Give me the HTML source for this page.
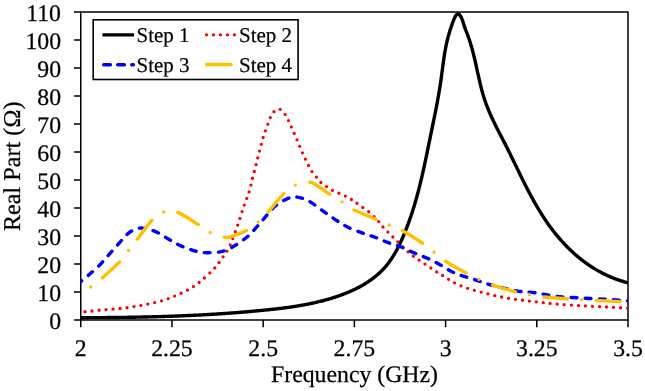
<!DOCTYPE html>
<html><head><meta charset="utf-8"><style>
html,body{margin:0;padding:0;background:#fff;}
svg{display:block;will-change:transform;text-rendering:geometricPrecision;}
.t{font-family:"Liberation Serif",serif;font-size:23.75px;fill:#000;stroke:#000;stroke-width:0.25px;}
.l{font-family:"Liberation Serif",serif;font-size:21px;fill:#000;stroke:#000;stroke-width:0.2px;}
</style></head><body>
<svg width="645" height="391" viewBox="0 0 645 391">
<rect x="80.75" y="12" width="547.25" height="308" fill="none" stroke="#000" stroke-width="1.5"/>
<line x1="74" y1="320.0" x2="80.75" y2="320.0" stroke="#000" stroke-width="1.5"/>
<text x="61" y="328.5" text-anchor="end" class="t">0</text>
<line x1="74" y1="292.0" x2="80.75" y2="292.0" stroke="#000" stroke-width="1.5"/>
<text x="61" y="300.5" text-anchor="end" class="t">10</text>
<line x1="74" y1="264.0" x2="80.75" y2="264.0" stroke="#000" stroke-width="1.5"/>
<text x="61" y="272.5" text-anchor="end" class="t">20</text>
<line x1="74" y1="236.0" x2="80.75" y2="236.0" stroke="#000" stroke-width="1.5"/>
<text x="61" y="244.5" text-anchor="end" class="t">30</text>
<line x1="74" y1="208.0" x2="80.75" y2="208.0" stroke="#000" stroke-width="1.5"/>
<text x="61" y="216.5" text-anchor="end" class="t">40</text>
<line x1="74" y1="180.0" x2="80.75" y2="180.0" stroke="#000" stroke-width="1.5"/>
<text x="61" y="188.5" text-anchor="end" class="t">50</text>
<line x1="74" y1="152.0" x2="80.75" y2="152.0" stroke="#000" stroke-width="1.5"/>
<text x="61" y="160.5" text-anchor="end" class="t">60</text>
<line x1="74" y1="124.0" x2="80.75" y2="124.0" stroke="#000" stroke-width="1.5"/>
<text x="61" y="132.5" text-anchor="end" class="t">70</text>
<line x1="74" y1="96.0" x2="80.75" y2="96.0" stroke="#000" stroke-width="1.5"/>
<text x="61" y="104.5" text-anchor="end" class="t">80</text>
<line x1="74" y1="68.0" x2="80.75" y2="68.0" stroke="#000" stroke-width="1.5"/>
<text x="61" y="76.5" text-anchor="end" class="t">90</text>
<line x1="74" y1="40.0" x2="80.75" y2="40.0" stroke="#000" stroke-width="1.5"/>
<text x="61" y="48.5" text-anchor="end" class="t">100</text>
<line x1="74" y1="12.0" x2="80.75" y2="12.0" stroke="#000" stroke-width="1.5"/>
<text x="61" y="20.5" text-anchor="end" class="t">110</text>
<line x1="80.75" y1="320" x2="80.75" y2="327.3" stroke="#000" stroke-width="1.5"/>
<text x="80.75" y="356" text-anchor="middle" class="t">2</text>
<line x1="171.96" y1="320" x2="171.96" y2="327.3" stroke="#000" stroke-width="1.5"/>
<text x="171.96" y="356" text-anchor="middle" class="t">2.25</text>
<line x1="263.17" y1="320" x2="263.17" y2="327.3" stroke="#000" stroke-width="1.5"/>
<text x="263.17" y="356" text-anchor="middle" class="t">2.5</text>
<line x1="354.38" y1="320" x2="354.38" y2="327.3" stroke="#000" stroke-width="1.5"/>
<text x="354.38" y="356" text-anchor="middle" class="t">2.75</text>
<line x1="445.58" y1="320" x2="445.58" y2="327.3" stroke="#000" stroke-width="1.5"/>
<text x="445.58" y="356" text-anchor="middle" class="t">3</text>
<line x1="536.79" y1="320" x2="536.79" y2="327.3" stroke="#000" stroke-width="1.5"/>
<text x="536.79" y="356" text-anchor="middle" class="t">3.25</text>
<line x1="628.00" y1="320" x2="628.00" y2="327.3" stroke="#000" stroke-width="1.5"/>
<text x="628.00" y="356" text-anchor="middle" class="t">3.5</text>
<defs><clipPath id="pc"><rect x="80.75" y="10" width="547.25" height="310"/></clipPath></defs><g clip-path="url(#pc)">
<path d="M80.52,317.69 L81.52,317.69 L82.52,317.69 L83.52,317.68 L84.52,317.68 L85.51,317.68 L86.51,317.68 L87.51,317.67 L88.51,317.67 L89.51,317.67 L90.51,317.67 L91.51,317.66 L92.51,317.66 L93.51,317.65 L94.51,317.65 L95.51,317.64 L96.50,317.64 L97.50,317.63 L98.50,317.63 L99.50,317.62 L100.50,317.62 L101.50,317.61 L102.50,317.60 L103.50,317.59 L104.50,317.59 L105.51,317.58 L106.51,317.57 L107.51,317.56 L108.51,317.55 L109.51,317.55 L110.51,317.54 L111.51,317.53 L112.51,317.52 L113.51,317.51 L114.51,317.50 L115.51,317.48 L116.51,317.47 L117.51,317.46 L118.52,317.45 L119.52,317.44 L120.52,317.42 L121.52,317.41 L122.52,317.40 L123.52,317.38 L124.52,317.37 L125.53,317.35 L126.53,317.34 L127.53,317.32 L128.53,317.31 L129.53,317.29 L130.53,317.28 L131.54,317.26 L132.54,317.24 L133.54,317.22 L134.54,317.21 L135.54,317.19 L136.55,317.17 L137.55,317.15 L138.55,317.13 L139.55,317.11 L140.56,317.09 L141.56,317.07 L142.56,317.05 L143.56,317.02 L144.56,317.00 L145.57,316.98 L146.57,316.95 L147.57,316.93 L148.57,316.91 L149.58,316.88 L150.58,316.86 L151.58,316.83 L152.58,316.81 L153.59,316.78 L154.59,316.75 L155.59,316.72 L156.59,316.70 L157.60,316.67 L158.60,316.64 L159.60,316.61 L160.60,316.58 L161.61,316.55 L162.61,316.52 L163.61,316.49 L164.61,316.46 L165.61,316.42 L166.62,316.39 L167.62,316.36 L168.62,316.32 L169.62,316.29 L170.63,316.25 L171.63,316.22 L172.63,316.18 L173.63,316.15 L174.64,316.11 L175.64,316.07 L176.64,316.03 L177.64,315.99 L178.65,315.95 L179.65,315.91 L180.65,315.87 L181.65,315.83 L182.65,315.79 L183.66,315.75 L184.66,315.71 L185.66,315.66 L186.66,315.62 L187.66,315.57 L188.67,315.53 L189.67,315.48 L190.67,315.44 L191.67,315.39 L192.67,315.34 L193.67,315.30 L194.68,315.25 L195.68,315.20 L196.68,315.15 L197.68,315.10 L198.68,315.05 L199.68,314.99 L200.69,314.94 L201.69,314.89 L202.69,314.83 L203.69,314.78 L204.69,314.73 L205.69,314.67 L206.69,314.61 L207.69,314.56 L208.69,314.50 L209.69,314.44 L210.70,314.38 L211.70,314.32 L212.70,314.26 L213.70,314.20 L214.70,314.14 L215.70,314.08 L216.70,314.02 L217.70,313.95 L218.70,313.89 L219.70,313.82 L220.70,313.76 L221.70,313.69 L222.70,313.62 L223.70,313.56 L224.70,313.49 L225.70,313.42 L226.70,313.35 L227.69,313.28 L228.69,313.21 L229.69,313.13 L230.69,313.06 L231.69,312.99 L232.69,312.91 L233.69,312.84 L234.69,312.76 L235.69,312.69 L236.68,312.61 L237.68,312.53 L238.68,312.45 L239.68,312.37 L240.68,312.29 L241.67,312.21 L242.67,312.13 L243.67,312.05 L244.67,311.96 L245.66,311.88 L246.66,311.79 L247.66,311.71 L248.66,311.62 L249.65,311.54 L250.65,311.45 L251.65,311.36 L252.64,311.27 L253.64,311.18 L254.63,311.09 L255.63,310.99 L256.63,310.90 L257.62,310.81 L258.62,310.71 L259.61,310.62 L260.61,310.52 L261.60,310.42 L262.60,310.33 L263.59,310.23 L264.59,310.13 L265.58,310.03 L266.58,309.93 L267.57,309.82 L268.57,309.72 L269.56,309.62 L270.55,309.51 L271.55,309.40 L272.54,309.30 L273.54,309.19 L274.53,309.08 L275.52,308.96 L276.51,308.85 L277.51,308.74 L278.50,308.62 L279.49,308.50 L280.48,308.38 L281.47,308.26 L282.46,308.14 L283.45,308.01 L284.44,307.88 L285.43,307.75 L286.42,307.62 L287.41,307.49 L288.40,307.35 L289.39,307.21 L290.38,307.07 L291.37,306.93 L292.36,306.78 L293.34,306.63 L294.33,306.48 L295.32,306.33 L296.30,306.17 L297.29,306.02 L298.27,305.85 L299.26,305.69 L300.24,305.52 L301.23,305.35 L302.21,305.18 L303.19,305.00 L304.18,304.82 L305.16,304.64 L306.14,304.45 L307.12,304.27 L308.10,304.07 L309.08,303.88 L310.06,303.68 L311.04,303.47 L312.02,303.27 L313.00,303.06 L313.98,302.84 L314.95,302.62 L315.93,302.40 L316.91,302.17 L317.88,301.94 L318.86,301.71 L319.83,301.47 L320.80,301.23 L321.78,300.98 L322.75,300.73 L323.72,300.48 L324.69,300.22 L325.66,299.95 L326.63,299.68 L327.60,299.41 L328.57,299.13 L329.54,298.85 L330.51,298.56 L331.47,298.27 L332.44,297.97 L333.40,297.67 L334.37,297.36 L335.33,297.05 L336.29,296.73 L337.25,296.41 L338.21,296.08 L339.17,295.75 L340.12,295.41 L341.07,295.06 L342.02,294.71 L342.97,294.36 L343.92,294.00 L344.86,293.63 L345.80,293.26 L346.74,292.88 L347.68,292.49 L348.61,292.10 L349.54,291.70 L350.46,291.30 L351.39,290.89 L352.30,290.47 L353.22,290.05 L354.13,289.62 L355.04,289.19 L355.94,288.74 L356.84,288.30 L357.73,287.84 L358.62,287.38 L359.51,286.91 L360.39,286.43 L361.26,285.95 L362.13,285.46 L362.99,284.96 L363.85,284.45 L364.71,283.94 L365.55,283.42 L366.40,282.89 L367.23,282.36 L368.06,281.81 L368.89,281.26 L369.70,280.71 L370.51,280.14 L371.32,279.57 L372.12,278.98 L372.91,278.39 L373.69,277.80 L374.47,277.19 L375.24,276.57 L376.00,275.95 L376.75,275.32 L377.50,274.68 L378.24,274.03 L378.97,273.38 L379.69,272.71 L380.40,272.04 L381.11,271.35 L381.80,270.66 L382.49,269.96 L383.17,269.25 L383.84,268.53 L384.50,267.81 L385.16,267.07 L385.80,266.32 L386.43,265.57 L387.06,264.80 L387.67,264.03 L388.28,263.24 L388.87,262.45 L389.46,261.65 L390.04,260.85 L390.61,260.03 L391.17,259.21 L391.73,258.38 L392.27,257.54 L392.81,256.70 L393.34,255.85 L393.87,254.99 L394.38,254.13 L394.89,253.26 L395.39,252.39 L395.89,251.51 L396.37,250.63 L396.85,249.74 L397.33,248.84 L397.80,247.95 L398.26,247.04 L398.72,246.14 L399.17,245.23 L399.61,244.32 L400.05,243.40 L400.48,242.48 L400.91,241.56 L401.33,240.63 L401.75,239.71 L402.16,238.78 L402.57,237.85 L402.98,236.92 L403.38,235.98 L403.77,235.05 L404.16,234.11 L404.55,233.18 L404.93,232.24 L405.31,231.30 L405.69,230.37 L406.06,229.43 L406.43,228.49 L406.79,227.55 L407.16,226.60 L407.51,225.66 L407.87,224.72 L408.22,223.78 L408.56,222.83 L408.90,221.89 L409.24,220.94 L409.58,220.00 L409.91,219.05 L410.24,218.10 L410.57,217.15 L410.89,216.20 L411.21,215.25 L411.53,214.30 L411.84,213.35 L412.15,212.40 L412.46,211.45 L412.76,210.49 L413.06,209.54 L413.36,208.59 L413.65,207.63 L413.95,206.68 L414.24,205.72 L414.52,204.76 L414.81,203.81 L415.09,202.85 L415.37,201.89 L415.65,200.93 L415.92,199.97 L416.19,199.01 L416.46,198.05 L416.73,197.09 L416.99,196.13 L417.25,195.16 L417.51,194.20 L417.77,193.24 L418.03,192.27 L418.28,191.31 L418.53,190.34 L418.78,189.38 L419.03,188.41 L419.27,187.45 L419.51,186.48 L419.76,185.51 L420.00,184.54 L420.23,183.58 L420.47,182.61 L420.70,181.64 L420.94,180.67 L421.17,179.70 L421.40,178.73 L421.62,177.76 L421.85,176.78 L422.07,175.81 L422.30,174.84 L422.52,173.87 L422.74,172.89 L422.96,171.92 L423.18,170.95 L423.39,169.97 L423.61,169.00 L423.82,168.02 L424.04,167.05 L424.25,166.07 L424.46,165.10 L424.67,164.12 L424.88,163.15 L425.09,162.17 L425.30,161.19 L425.51,160.21 L425.71,159.24 L425.92,158.26 L426.12,157.28 L426.33,156.30 L426.53,155.32 L426.73,154.34 L426.94,153.36 L427.14,152.39 L427.34,151.41 L427.54,150.43 L427.75,149.45 L427.95,148.47 L428.15,147.48 L428.35,146.50 L428.55,145.52 L428.75,144.54 L428.95,143.56 L429.15,142.58 L429.35,141.60 L429.55,140.61 L429.75,139.63 L429.95,138.65 L430.15,137.67 L430.35,136.69 L430.55,135.70 L430.76,134.72 L430.96,133.74 L431.16,132.75 L431.36,131.77 L431.57,130.79 L431.77,129.80 L431.97,128.82 L432.17,127.84 L432.38,126.85 L432.58,125.87 L432.78,124.88 L432.98,123.90 L433.19,122.92 L433.39,121.93 L433.59,120.95 L433.79,119.96 L433.99,118.98 L434.19,117.99 L434.39,117.01 L434.59,116.02 L434.79,115.04 L434.98,114.05 L435.18,113.07 L435.38,112.08 L435.57,111.10 L435.77,110.11 L435.96,109.12 L436.15,108.14 L436.34,107.15 L436.53,106.17 L436.72,105.18 L436.91,104.19 L437.09,103.21 L437.28,102.22 L437.46,101.23 L437.64,100.25 L437.83,99.26 L438.00,98.27 L438.18,97.28 L438.36,96.30 L438.53,95.31 L438.70,94.32 L438.87,93.33 L439.04,92.35 L439.21,91.36 L439.38,90.37 L439.54,89.38 L439.70,88.40 L439.86,87.41 L440.01,86.42 L440.17,85.43 L440.32,84.44 L440.47,83.45 L440.62,82.46 L440.76,81.48 L440.91,80.49 L441.05,79.50 L441.19,78.51 L441.32,77.52 L441.46,76.53 L441.59,75.54 L441.72,74.55 L441.85,73.56 L441.98,72.57 L442.11,71.59 L442.24,70.60 L442.37,69.61 L442.49,68.62 L442.62,67.63 L442.75,66.64 L442.88,65.65 L443.01,64.66 L443.15,63.68 L443.28,62.69 L443.42,61.70 L443.55,60.71 L443.69,59.72 L443.84,58.74 L443.98,57.75 L444.13,56.76 L444.28,55.78 L444.44,54.79 L444.59,53.81 L444.76,52.82 L444.92,51.83 L445.09,50.85 L445.27,49.87 L445.45,48.88 L445.63,47.90 L445.82,46.91 L446.02,45.93 L446.22,44.95 L446.43,43.97 L446.64,42.99 L446.86,42.01 L447.09,41.03 L447.32,40.05 L447.56,39.07 L447.81,38.09 L448.07,37.11 L448.33,36.13 L448.60,35.16 L448.87,34.19 L449.16,33.21 L449.44,32.25 L449.74,31.28 L450.04,30.32 L450.35,29.36 L450.66,28.40 L450.97,27.45 L451.30,26.50 L451.62,25.56 L451.95,24.62 L452.29,23.69 L452.63,22.76 L452.97,21.84 L453.32,20.92 L453.67,20.02 L454.04,19.11 L454.45,18.18 L454.93,17.21 L455.50,16.19 L456.16,15.23 L456.87,14.45 L457.60,13.96 L458.34,13.88 L459.05,14.24 L459.74,14.94 L460.37,15.85 L460.95,16.86 L461.46,17.88 L461.91,18.86 L462.30,19.82 L462.65,20.75 L462.96,21.67 L463.25,22.58 L463.52,23.48 L463.79,24.39 L464.07,25.30 L464.36,26.23 L464.68,27.17 L465.02,28.13 L465.38,29.09 L465.75,30.07 L466.12,31.04 L466.50,32.02 L466.87,32.99 L467.24,33.95 L467.59,34.91 L467.94,35.86 L468.28,36.81 L468.62,37.75 L468.94,38.69 L469.26,39.62 L469.58,40.56 L469.88,41.49 L470.19,42.43 L470.48,43.37 L470.77,44.31 L471.05,45.25 L471.33,46.19 L471.61,47.14 L471.88,48.09 L472.14,49.04 L472.40,50.00 L472.66,50.96 L472.91,51.92 L473.16,52.89 L473.40,53.85 L473.64,54.82 L473.88,55.79 L474.12,56.77 L474.35,57.74 L474.58,58.72 L474.81,59.70 L475.03,60.68 L475.26,61.66 L475.48,62.64 L475.70,63.63 L475.92,64.61 L476.14,65.60 L476.35,66.59 L476.57,67.57 L476.79,68.56 L477.00,69.55 L477.22,70.54 L477.43,71.53 L477.65,72.52 L477.87,73.51 L478.09,74.50 L478.31,75.49 L478.53,76.48 L478.75,77.47 L478.97,78.46 L479.20,79.45 L479.42,80.44 L479.65,81.43 L479.88,82.41 L480.12,83.40 L480.35,84.38 L480.59,85.37 L480.84,86.35 L481.09,87.33 L481.34,88.31 L481.59,89.28 L481.85,90.26 L482.11,91.23 L482.38,92.20 L482.65,93.17 L482.93,94.14 L483.21,95.11 L483.50,96.07 L483.79,97.03 L484.09,97.98 L484.40,98.94 L484.71,99.89 L485.02,100.84 L485.35,101.78 L485.68,102.72 L486.02,103.66 L486.36,104.60 L486.71,105.53 L487.06,106.46 L487.43,107.39 L487.79,108.31 L488.16,109.24 L488.54,110.16 L488.92,111.07 L489.31,111.99 L489.70,112.90 L490.10,113.81 L490.50,114.72 L490.91,115.63 L491.32,116.53 L491.73,117.44 L492.15,118.34 L492.57,119.24 L492.99,120.13 L493.42,121.03 L493.85,121.93 L494.29,122.82 L494.72,123.71 L495.16,124.61 L495.61,125.50 L496.05,126.39 L496.50,127.28 L496.94,128.17 L497.39,129.05 L497.85,129.94 L498.30,130.83 L498.75,131.71 L499.21,132.60 L499.67,133.49 L500.12,134.37 L500.58,135.26 L501.04,136.14 L501.50,137.03 L501.96,137.91 L502.42,138.80 L502.88,139.69 L503.33,140.57 L503.79,141.46 L504.25,142.35 L504.71,143.24 L505.16,144.13 L505.62,145.02 L506.07,145.91 L506.52,146.80 L506.97,147.70 L507.42,148.59 L507.87,149.49 L508.32,150.38 L508.76,151.28 L509.21,152.18 L509.65,153.08 L510.09,153.98 L510.54,154.88 L510.98,155.78 L511.42,156.68 L511.86,157.58 L512.30,158.48 L512.74,159.38 L513.18,160.28 L513.62,161.18 L514.06,162.09 L514.50,162.99 L514.94,163.89 L515.37,164.80 L515.81,165.70 L516.25,166.60 L516.69,167.51 L517.13,168.41 L517.57,169.31 L518.01,170.22 L518.45,171.12 L518.89,172.02 L519.33,172.92 L519.77,173.83 L520.21,174.73 L520.65,175.63 L521.09,176.53 L521.54,177.43 L521.98,178.33 L522.43,179.23 L522.87,180.13 L523.32,181.03 L523.77,181.93 L524.22,182.82 L524.67,183.72 L525.12,184.62 L525.57,185.51 L526.03,186.41 L526.49,187.30 L526.94,188.19 L527.40,189.08 L527.86,189.97 L528.33,190.86 L528.79,191.75 L529.26,192.64 L529.72,193.52 L530.19,194.41 L530.66,195.29 L531.14,196.17 L531.61,197.05 L532.09,197.93 L532.57,198.81 L533.05,199.68 L533.54,200.56 L534.03,201.43 L534.52,202.30 L535.01,203.17 L535.50,204.04 L536.00,204.91 L536.50,205.77 L537.00,206.63 L537.51,207.50 L538.02,208.35 L538.53,209.21 L539.04,210.07 L539.56,210.92 L540.08,211.77 L540.61,212.62 L541.13,213.47 L541.66,214.31 L542.20,215.15 L542.74,215.99 L543.28,216.83 L543.82,217.67 L544.37,218.50 L544.92,219.33 L545.48,220.16 L546.04,220.99 L546.60,221.81 L547.17,222.63 L547.74,223.45 L548.31,224.26 L548.89,225.08 L549.48,225.89 L550.06,226.69 L550.65,227.50 L551.25,228.30 L551.85,229.10 L552.46,229.89 L553.06,230.68 L553.68,231.47 L554.29,232.26 L554.92,233.04 L555.54,233.82 L556.17,234.60 L556.81,235.37 L557.44,236.14 L558.09,236.91 L558.73,237.67 L559.38,238.43 L560.04,239.18 L560.70,239.93 L561.36,240.68 L562.03,241.42 L562.70,242.16 L563.38,242.89 L564.06,243.63 L564.75,244.35 L565.44,245.07 L566.13,245.79 L566.83,246.51 L567.53,247.22 L568.24,247.92 L568.95,248.62 L569.66,249.32 L570.38,250.01 L571.10,250.70 L571.83,251.38 L572.56,252.06 L573.30,252.73 L574.04,253.40 L574.78,254.06 L575.53,254.72 L576.28,255.37 L577.04,256.02 L577.80,256.66 L578.57,257.30 L579.34,257.93 L580.11,258.56 L580.89,259.18 L581.68,259.80 L582.46,260.41 L583.25,261.01 L584.05,261.61 L584.85,262.20 L585.65,262.79 L586.46,263.37 L587.27,263.95 L588.09,264.52 L588.91,265.08 L589.74,265.64 L590.57,266.19 L591.40,266.74 L592.24,267.28 L593.08,267.81 L593.93,268.34 L594.78,268.86 L595.64,269.37 L596.50,269.88 L597.36,270.38 L598.23,270.87 L599.10,271.36 L599.98,271.84 L600.86,272.32 L601.74,272.78 L602.63,273.24 L603.53,273.70 L604.42,274.14 L605.33,274.58 L606.23,275.01 L607.14,275.44 L608.06,275.86 L608.98,276.27 L609.90,276.67 L610.83,277.06 L611.76,277.45 L612.70,277.83 L613.64,278.21 L614.59,278.57 L615.53,278.93 L616.49,279.28 L617.45,279.62 L618.41,279.95 L619.38,280.28 L620.35,280.60 L621.32,280.91 L622.30,281.21 L623.28,281.50 L624.27,281.79 L625.26,282.06 L626.26,282.33 L627.26,282.59 L628.27,282.84" fill="none" stroke="#000" stroke-width="3.4" stroke-linejoin="round"/>
<path d="M80.5,312.2 C81.3,312.1 80.8,312.1 85.1,311.7 C89.3,311.3 100.2,310.1 106.0,309.6 C111.8,309.1 115.3,309.0 120.0,308.5 C124.7,308.0 129.3,307.4 134.0,306.6 C138.7,305.9 143.2,305.0 147.9,304.0 C152.6,303.0 157.4,302.0 161.9,300.7 C166.4,299.4 170.6,297.8 174.9,296.0 C179.2,294.2 183.9,292.1 187.9,289.8 C191.9,287.6 194.7,285.9 199.0,282.5 C203.3,279.1 209.6,273.4 213.5,269.3 C217.4,265.2 219.6,261.9 222.4,257.8 C225.2,253.8 227.5,250.6 230.1,245.0 C232.7,239.4 235.5,231.1 237.8,224.5 C240.2,217.9 242.3,210.8 244.2,205.3 C246.1,199.8 247.9,195.8 249.3,191.3 C250.7,186.8 251.4,182.6 252.5,178.2 C253.6,173.8 255.0,169.2 256.1,164.7 C257.2,160.2 258.2,156.0 259.4,151.4 C260.6,146.8 261.8,141.9 263.2,137.3 C264.6,132.7 266.6,127.5 267.9,124.0 C269.2,120.5 269.9,118.1 271.0,116.0 C272.1,113.9 273.0,112.3 274.5,111.2 C276.0,110.1 278.1,108.7 279.9,109.2 C281.6,109.7 283.6,112.5 285.0,114.3 C286.4,116.1 287.2,118.1 288.3,120.2 C289.4,122.3 289.9,123.8 291.4,127.1 C292.8,130.4 295.2,135.6 297.0,139.9 C298.8,144.2 300.5,148.4 302.4,152.7 C304.3,156.9 306.9,162.3 308.5,165.4 C310.1,168.5 310.5,169.4 311.8,171.3 C313.1,173.2 314.8,175.1 316.4,177.0 C318.0,178.9 319.6,181.3 321.4,183.0 C323.2,184.7 325.2,185.7 327.0,186.9 C328.8,188.1 330.1,189.1 332.1,190.2 C334.1,191.2 336.5,192.2 338.8,193.2 C341.1,194.2 343.6,195.2 345.7,196.3 C347.8,197.4 349.2,198.1 351.6,199.6 C354.0,201.1 357.1,203.3 360.2,205.6 C363.3,207.9 367.5,210.6 370.5,213.2 C373.5,215.8 376.0,218.6 378.1,220.9 C380.2,223.2 381.1,225.0 383.2,227.3 C385.3,229.7 388.5,232.7 390.9,235.0 C393.2,237.3 394.7,238.8 397.3,241.4 C399.9,244.0 403.5,247.8 406.3,250.3 C409.1,252.9 411.3,254.8 413.9,256.7 C416.4,258.6 419.0,260.1 421.6,261.8 C424.2,263.5 426.7,265.3 429.3,267.0 C431.9,268.7 434.4,270.5 437.0,272.1 C439.6,273.7 441.8,275.0 444.6,276.7 C447.4,278.4 450.0,280.6 453.8,282.5 C457.6,284.4 463.0,286.7 467.6,288.3 C472.2,289.9 476.9,291.0 481.5,292.2 C486.1,293.4 490.7,294.7 495.3,295.7 C499.9,296.7 504.5,297.6 509.1,298.4 C513.7,299.2 518.3,299.7 522.9,300.3 C527.5,300.9 531.3,301.3 536.8,301.9 C542.2,302.5 548.2,303.3 555.6,303.9 C563.0,304.5 572.7,305.2 581.2,305.7 C589.7,306.2 598.9,306.6 606.7,307.0 C614.5,307.4 624.5,308.0 628.0,308.2" fill="none" stroke="#f00" stroke-width="3.3" stroke-linecap="round" stroke-dasharray="0 7.0245" stroke-dashoffset="2.42"/>
<path d="M80.6,281.8 C81.9,280.7 85.2,278.0 88.2,275.4 C91.2,272.8 95.0,269.8 98.4,266.4 C101.8,263.0 105.3,258.7 108.7,254.9 C112.1,251.1 116.0,246.7 118.9,243.4 C121.8,240.1 123.9,237.4 126.1,235.3 C128.3,233.2 130.2,231.8 132.3,230.7 C134.4,229.5 136.6,228.8 138.4,228.4 C140.2,228.0 140.9,227.8 143.0,228.1 C145.1,228.3 148.1,229.1 150.7,229.9 C153.3,230.7 155.8,231.7 158.4,233.0 C161.0,234.3 163.6,236.1 166.1,237.6 C168.6,239.1 171.1,240.8 173.7,242.2 C176.2,243.6 178.8,244.9 181.4,246.1 C184.0,247.2 186.5,248.2 189.1,249.1 C191.7,250.0 193.6,250.8 196.8,251.4 C200.0,252.0 203.5,252.9 208.4,252.7 C213.3,252.5 219.9,252.7 226.3,250.1 C232.7,247.5 240.6,242.3 246.7,237.3 C252.8,232.3 257.8,225.3 262.6,220.1 C267.4,214.9 271.1,209.6 275.3,206.0 C279.6,202.4 284.5,199.9 288.1,198.4 C291.7,196.9 293.7,196.7 297.1,197.1 C300.5,197.5 304.6,198.8 308.6,200.9 C312.7,203.0 317.1,206.9 321.4,209.9 C325.7,212.9 329.9,216.0 334.2,218.8 C338.5,221.6 342.2,224.4 347.0,226.8 C351.8,229.2 358.0,231.4 362.8,233.2 C367.6,235.0 371.3,235.9 375.6,237.5 C379.9,239.1 384.1,241.1 388.4,242.7 C392.7,244.3 396.9,245.3 401.2,247.0 C405.4,248.7 409.6,251.1 413.9,252.9 C418.1,254.7 422.4,256.1 426.7,258.0 C431.0,259.9 435.4,262.1 439.5,264.4 C443.6,266.6 447.6,269.6 451.5,271.5 C455.4,273.4 459.1,274.8 463.0,276.1 C466.9,277.4 470.8,278.3 474.6,279.5 C478.5,280.7 482.3,282.3 486.1,283.5 C489.9,284.7 493.8,285.5 497.6,286.5 C501.4,287.5 505.3,288.6 509.1,289.4 C512.9,290.2 516.4,290.9 520.6,291.5 C524.8,292.1 528.7,291.9 534.5,292.7 C540.3,293.5 547.8,295.3 555.6,296.2 C563.4,297.1 572.7,297.5 581.2,298.0 C589.7,298.5 598.9,298.8 606.7,299.3 C614.5,299.8 624.5,300.6 628.0,300.8" fill="none" stroke="#00f" stroke-width="3.4" stroke-linecap="round" stroke-dasharray="5.8 8.28" stroke-dashoffset="4.08"/>
<path d="M80.5,293.5 C82.2,292.4 87.4,289.5 91.0,286.9 C94.6,284.3 97.4,282.2 102.3,277.9 C107.2,273.6 115.8,265.9 120.2,261.3 C124.6,256.8 125.7,254.2 128.5,250.6 C131.3,247.0 133.0,245.0 136.9,239.9 C140.8,234.8 147.7,224.7 152.2,220.0 C156.7,215.3 159.7,213.3 163.8,212.0 C167.9,210.7 171.1,209.9 176.8,212.0 C182.6,214.1 192.8,221.2 198.3,224.6 C203.8,228.0 205.6,230.2 209.6,232.2 C213.6,234.2 219.2,235.7 222.4,236.5 C225.6,237.3 224.8,238.3 228.8,237.3 C232.9,236.3 241.8,233.0 246.7,230.4 C251.6,227.8 254.7,225.0 258.2,222.0 C261.7,219.0 263.3,217.2 267.7,212.4 C272.1,207.6 279.7,197.8 284.3,193.2 C288.9,188.6 291.2,186.9 295.3,185.1 C299.4,183.3 305.5,182.8 308.6,182.5 C311.7,182.2 310.1,181.5 313.7,183.5 C317.3,185.5 325.6,191.5 330.3,194.5 C335.0,197.5 338.1,199.2 341.8,201.7 C345.5,204.2 346.8,206.4 352.6,209.4 C358.5,212.4 370.8,217.0 376.9,219.6 C382.9,222.2 384.8,223.1 388.9,224.8 C392.9,226.5 395.5,226.8 401.2,229.9 C406.9,233.0 417.4,239.7 422.9,243.4 C428.3,247.1 430.3,249.2 433.9,252.1 C437.5,255.0 439.2,257.1 444.6,260.6 C450.0,264.1 460.7,270.2 466.5,273.3 C472.3,276.4 475.0,277.6 479.2,279.5 C483.4,281.4 485.7,282.8 491.8,284.8 C497.9,286.9 509.7,290.2 516.0,291.8 C522.3,293.4 524.9,293.6 529.4,294.5 C533.9,295.4 536.5,296.2 542.8,296.9 C549.1,297.6 558.6,298.2 567.1,298.8 C575.6,299.4 584.9,299.8 594.0,300.3 C603.1,300.8 615.9,301.4 621.6,301.7 C627.3,302.0 626.9,301.9 628.0,302.0" fill="none" stroke="#ffc000" stroke-width="3.4" stroke-linecap="round" stroke-dasharray="23.5 14.5 0 14.77" stroke-dashoffset="25.9"/>
</g>
<rect x="93.2" y="19.8" width="204.9" height="59.7" fill="#fff" stroke="#000" stroke-width="1.6"/>
<line x1="102.4" y1="34.9" x2="134.1" y2="34.9" stroke="#000" stroke-width="3.4"/>
<line x1="206.5" y1="34.8" x2="234.6" y2="34.8" stroke="#f00" stroke-width="3.3" stroke-linecap="round" stroke-dasharray="0 6.98"/>
<line x1="103.7" y1="64.75" x2="133.4" y2="64.75" stroke="#00f" stroke-width="3.4" stroke-linecap="round" stroke-dasharray="6.7 7.3"/>
<line x1="206.7" y1="64.5" x2="231.1" y2="64.5" stroke="#ffc000" stroke-width="3.4" stroke-linecap="round"/>
<text x="136.5" y="41.7" class="l">Step 1</text>
<text x="239" y="41.7" class="l">Step 2</text>
<text x="136.5" y="72.2" class="l">Step 3</text>
<text x="239" y="72.2" class="l">Step 4</text>
<text x="354.5" y="382.2" text-anchor="middle" class="t">Frequency (GHz)</text>
<text transform="translate(20,166.3) rotate(-90)" x="0" y="0" text-anchor="middle" class="t" style="font-size:24.2px">Real Part (Ω)</text>
</svg>
</body></html>
